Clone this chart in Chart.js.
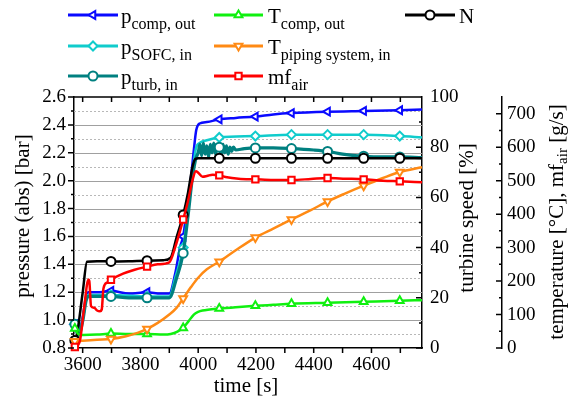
<!DOCTYPE html>
<html>
<head>
<meta charset="utf-8">
<script src="https://cdn.jsdelivr.net/npm/chart.js@4.4.0/dist/chart.umd.min.js"></script>
<style>
  html, body { margin: 0; padding: 0; background: #fff; }
  #wrap { position: relative; width: 569px; height: 398px; }
</style>
</head>
<body>
<div id="wrap"><canvas id="chart" width="569" height="398"></canvas></div>
<script>
const FONT = "'Liberation Serif', 'Times New Roman', serif";

// times where the markers sit (every 125 s)
const markerTimes = [3573, 3698, 3823, 3948, 4073, 4198, 4323, 4448, 4573, 4698];
const timeTicks = [3600, 3800, 4000, 4200, 4400, 4600];

// p_comp,out [bar]
const pCompTime = [3573, 3585, 3600, 3612, 3620, 3660, 3698, 3760, 3823, 3870, 3900, 3920, 3938, 3948, 3960, 3975, 3985, 3993, 4005, 4030, 4073, 4130, 4198, 4260, 4323, 4448, 4573, 4698, 4775];
const pCompVal = [0.97, 0.90, 1.02, 1.17, 1.20, 1.20, 1.21, 1.19, 1.20, 1.19, 1.19, 1.33, 1.53, 1.60, 1.78, 2.02, 2.22, 2.36, 2.41, 2.42, 2.44, 2.45, 2.46, 2.475, 2.485, 2.495, 2.50, 2.505, 2.51];

// p_SOFC,in [bar]
const pSofcTime = [3573, 3585, 3600, 3612, 3620, 3698, 3823, 3900, 3920, 3948, 3965, 3980, 3992, 4005, 4030, 4073, 4198, 4323, 4448, 4573, 4698, 4775];
const pSofcVal = [0.97, 0.90, 1.00, 1.15, 1.18, 1.18, 1.17, 1.17, 1.30, 1.52, 1.78, 2.05, 2.23, 2.27, 2.29, 2.31, 2.32, 2.33, 2.33, 2.33, 2.32, 2.31];

// p_turb,in [bar]
const pTurbTime = [3573, 3585, 3600, 3612, 3620, 3698, 3760, 3823, 3870, 3900, 3925, 3948, 3965, 3980, 3992,
  4000, 4006, 4012, 4018, 4024, 4030, 4036, 4042, 4048, 4054, 4060, 4066, 4073, 4080, 4086, 4092, 4098, 4104, 4110, 4116, 4122, 4130,
  4160, 4198, 4260, 4323, 4400, 4448, 4500, 4573, 4640, 4698, 4775];
const pTurbVal = [0.97, 0.89, 0.99, 1.14, 1.17, 1.17, 1.16, 1.16, 1.16, 1.16, 1.30, 1.48, 1.75, 2.02, 2.16,
  2.20, 2.26, 2.18, 2.27, 2.19, 2.25, 2.17, 2.26, 2.20, 2.27, 2.19, 2.24, 2.24, 2.18, 2.26, 2.20, 2.25, 2.19, 2.24, 2.21, 2.24, 2.22,
  2.23, 2.235, 2.235, 2.23, 2.22, 2.21, 2.19, 2.175, 2.17, 2.17, 2.165];

// N, turbine speed [%]
const speedTime = [3573, 3578, 3600, 3615, 3650, 3698, 3760, 3823, 3880, 3905, 3925, 3948, 3965, 3980, 3990, 4000, 4073, 4198, 4323, 4448, 4573, 4698, 4775];
const speedVal = [3, 4, 22, 34.4, 34.6, 34.5, 34.6, 34.8, 35.0, 36, 44, 53, 62, 72, 75.3, 75.6, 75.6, 75.6, 75.6, 75.6, 75.6, 75.6, 75.6];

// T_comp,out [°C]
const tCompTime = [3573, 3585, 3600, 3650, 3698, 3760, 3823, 3880, 3905, 3930, 3948, 3965, 3985, 4000, 4015, 4040, 4073, 4130, 4198, 4260, 4323, 4448, 4573, 4698, 4775];
const tCompVal = [58, 42, 39, 40, 43, 42, 42, 40, 42, 50, 60, 78, 100, 108, 112, 115, 118, 122, 126, 129, 132, 135, 138, 141, 143];

// T_piping system,in [°C]
const tPipeTime = [3573, 3600, 3650, 3698, 3750, 3790, 3823, 3860, 3900, 3925, 3948, 3975, 4000, 4030, 4073, 4130, 4198, 4260, 4323, 4390, 4448, 4510, 4573, 4640, 4698, 4775];
const tPipeVal = [20, 22, 25, 27, 35, 45, 57, 75, 100, 120, 148, 182, 210, 235, 258, 292, 330, 357, 384, 412, 438, 462, 485, 508, 526, 540];

// mf_air [g/s]
const mfTime = [3573, 3590, 3605, 3620, 3623, 3629, 3640, 3650, 3660, 3666, 3672, 3685, 3698, 3740, 3780, 3823, 3860, 3900, 3920, 3948, 3965, 3980, 3992, 4000, 4015, 4030, 4050, 4073, 4100, 4140, 4198, 4260, 4323, 4390, 4448, 4510, 4573, 4640, 4698, 4775];
const mfVal = [3, 20, 120, 205, 200, 125, 120, 112, 110, 115, 178, 196, 204, 222, 234, 243, 250, 256, 300, 384, 440, 500, 528, 524, 512, 514, 518, 516, 510, 506, 504, 502, 502, 505, 508, 506, 504, 500, 498, 495];

function series(label, time, vals, axis, color, style, rot, order, width) {
  return {
    label, yAxisID: axis, order,
    data: time.map((t, i) => ({ x: t, y: vals[i] })),
    borderColor: color,
    borderWidth: width || 2.5,
    pointRadius: time.map(t => markerTimes.includes(t) ? 4.5 : 0),
    pointStyle: style,
    pointRotation: rot,
    pointBackgroundColor: '#fff',
    pointBorderColor: color,
    pointBorderWidth: 2,
    cubicInterpolationMode: 'monotone',
    clip: false
  };
}

const datasets = [
  series('mf_air', mfTime, mfVal, 'y2', '#ff0000', 'rect', 0, 0),
  series('T_piping', tPipeTime, tPipeVal, 'y2', '#ff8a14', 'triangle', 180, 1),
  series('T_comp', tCompTime, tCompVal, 'y2', '#10f010', 'triangle', 0, 2),
  series('N', speedTime, speedVal, 'y1', '#000000', 'circle', 0, 3),
  series('p_turb', pTurbTime, pTurbVal, 'y', '#008080', 'circle', 0, 4, 3.2),
  series('p_SOFC', pSofcTime, pSofcVal, 'y', '#10cccc', 'rectRot', 0, 5),
  series('p_comp', pCompTime, pCompVal, 'y', '#0a0aff', 'triangle', -90, 6)
];

// legend entries: main text + subscript
const legendItems = [
  { main: 'p', sub: 'comp, out', color: '#0a0aff', style: 'triangle', rot: -90, col: 0, row: 0 },
  { main: 'p', sub: 'SOFC, in', color: '#10cccc', style: 'rectRot', rot: 0, col: 0, row: 1 },
  { main: 'p', sub: 'turb, in', color: '#008080', style: 'circle', rot: 0, col: 0, row: 2 },
  { main: 'T', sub: 'comp, out', color: '#10f010', style: 'triangle', rot: 0, col: 1, row: 0 },
  { main: 'T', sub: 'piping system, in', color: '#ff8a14', style: 'triangle', rot: 180, col: 1, row: 1 },
  { main: 'mf', sub: 'air', color: '#ff0000', style: 'rect', rot: 0, col: 1, row: 2 },
  { main: 'N', sub: '', color: '#000000', style: 'circle', rot: 0, col: 2, row: 0 }
];
const legendRowY = [15, 46, 76];
const legendColX = [{ x0: 68, x1: 118, tx: 121 }, { x0: 214, x1: 263, tx: 268 }, { x0: 405, x1: 455, tx: 459 }];

function richText(ctx, parts, x, y) {
  let cx = x;
  for (const p of parts) {
    ctx.font = p.sub ? `16px ${FONT}` : `21px ${FONT}`;
    ctx.fillText(p.t, cx, y + (p.sub ? 6 : 0));
    cx += ctx.measureText(p.t).width;
  }
  return cx;
}

function vTitle(ctx, parts, cx, cy) {
  let total = 0;
  for (const p of parts) {
    ctx.font = p.sub ? `15px ${FONT}` : `21px ${FONT}`;
    total += ctx.measureText(p.t).width;
  }
  ctx.save();
  ctx.translate(cx, cy);
  ctx.rotate(-Math.PI / 2);
  ctx.textAlign = 'left';
  ctx.textBaseline = 'middle';
  let x = -total / 2;
  for (const p of parts) {
    ctx.font = p.sub ? `15px ${FONT}` : `21px ${FONT}`;
    ctx.fillText(p.t, x, p.sub ? 6 : 0);
    x += ctx.measureText(p.t).width;
  }
  ctx.restore();
}

const decor = {
  id: 'decor',
  beforeDatasetsDraw(chart) {
    const { ctx, chartArea: a, scales: { y } } = chart;
    ctx.save();
    ctx.lineWidth = 1;
    for (let i = 1; i < 18; i++) {
      const py = Math.round(y.getPixelForValue(0.8 + i * 0.1)) + 0.5;
      ctx.beginPath();
      ctx.setLineDash(i % 2 ? [2, 2] : []);
      ctx.strokeStyle = i % 2 ? '#b8b8b8' : '#a0a0a0';
      ctx.moveTo(a.left, py);
      ctx.lineTo(a.right, py);
      ctx.stroke();
    }
    ctx.restore();
  },
  afterDraw(chart) {
    const { ctx, chartArea: a, scales: { x, y, y1, y2 } } = chart;
    ctx.save();
    ctx.strokeStyle = '#000';
    ctx.lineWidth = 1.5;
    ctx.beginPath();
    ctx.moveTo(a.left, a.top);
    ctx.lineTo(a.right, a.top);
    for (let t = 3600; t <= 4700; t += 100) {
      const px = x.getPixelForValue(t);
      ctx.moveTo(px, a.bottom); ctx.lineTo(px, a.bottom + 5);
      ctx.moveTo(px, a.top); ctx.lineTo(px, a.top + 5);
    }
    for (let i = 0; i <= 18; i++) {
      const py = y.getPixelForValue(0.8 + i * 0.1);
      const len = i % 2 ? 3 : 6;
      ctx.moveTo(a.left - len, py); ctx.lineTo(a.left, py);
    }
    for (let v = 0; v <= 100; v += 10) {
      const py = y1.getPixelForValue(v);
      const len = v % 20 ? 3 : 6;
      ctx.moveTo(a.right - len, py); ctx.lineTo(a.right, py);
    }
    for (let v = 0; v <= 700; v += 50) {
      const py = y2.getPixelForValue(v);
      const len = v % 100 ? 3 : 6;
      ctx.moveTo(y2.left - len, py); ctx.lineTo(y2.left, py);
    }
    ctx.stroke();

    // axis titles
    ctx.fillStyle = '#000';
    ctx.font = `21px ${FONT}`;
    ctx.textAlign = 'center';
    ctx.textBaseline = 'middle';
    ctx.fillText('time [s]', 246, 386);
    vTitle(ctx, [{ t: 'pressure (abs) [bar]' }], 23, 216);
    vTitle(ctx, [{ t: 'turbine speed [%]' }], 467, 218);
    vTitle(ctx, [{ t: 'temperature [°C], mf' }, { t: 'air', sub: true }, { t: ' [g/s]' }], 557, 222);

    // legend
    ctx.textAlign = 'left';
    ctx.textBaseline = 'alphabetic';
    for (const it of legendItems) {
      const c = legendColX[it.col];
      const ly = legendRowY[it.row];
      ctx.beginPath();
      ctx.strokeStyle = it.color;
      ctx.lineWidth = 3;
      ctx.moveTo(c.x0, ly);
      ctx.lineTo(c.x1, ly);
      ctx.stroke();
      ctx.fillStyle = '#fff';
      ctx.strokeStyle = it.color;
      ctx.lineWidth = 2;
      Chart.helpers.drawPoint(ctx, { pointStyle: it.style, rotation: it.rot, radius: 4.5, borderWidth: 2 }, (c.x0 + c.x1) / 2, ly);
      ctx.fillStyle = '#000';
      const parts = [{ t: it.main }];
      if (it.sub) parts.push({ t: it.sub, sub: true });
      richText(ctx, parts, c.tx, ly + 8);
    }
    ctx.restore();
  }
};

const tickFont = { family: FONT, size: 19 };

new Chart(document.getElementById('chart'), {
  type: 'line',
  data: { datasets },
  options: {
    responsive: false,
    animation: false,
    devicePixelRatio: 1,
    layout: { padding: { top: 97, left: 0, right: 0, bottom: 0 } },
    plugins: { legend: { display: false }, tooltip: { enabled: false } },
    elements: { line: { tension: 0 } },
    scales: {
      x: {
        type: 'linear', min: 3570, max: 4775,
        afterBuildTicks: s => { s.ticks = timeTicks.map(v => ({ value: v })); },
        ticks: { callback: v => String(v), autoSkip: false, font: tickFont, color: '#000', padding: 6, maxRotation: 0 },
        grid: { display: false, drawTicks: false },
        border: { color: '#000', width: 1.5 },
        afterFit: s => { s.height = 50; }
      },
      y: {
        position: 'left', min: 0.8, max: 2.6,
        ticks: { stepSize: 0.2, callback: v => v.toFixed(1), font: tickFont, color: '#000', padding: 8 },
        grid: { display: false, drawTicks: false },
        border: { color: '#000', width: 1.5 },
        afterFit: s => { s.width = 74; }
      },
      y1: {
        position: 'right', min: 0, max: 100,
        ticks: { stepSize: 20, font: tickFont, color: '#000', padding: 8 },
        grid: { display: false, drawTicks: false },
        border: { color: '#000', width: 1.5 },
        afterFit: s => { s.width = 80; }
      },
      y2: {
        position: 'right', min: 0, max: 750,
        ticks: { stepSize: 100, includeBounds: false, font: tickFont, color: '#000', padding: 5 },
        grid: { display: false, drawTicks: false },
        border: { color: '#000', width: 1.5 },
        afterFit: s => { s.width = 67; }
      }
    }
  },
  plugins: [decor]
});
</script>
</body>
</html>
